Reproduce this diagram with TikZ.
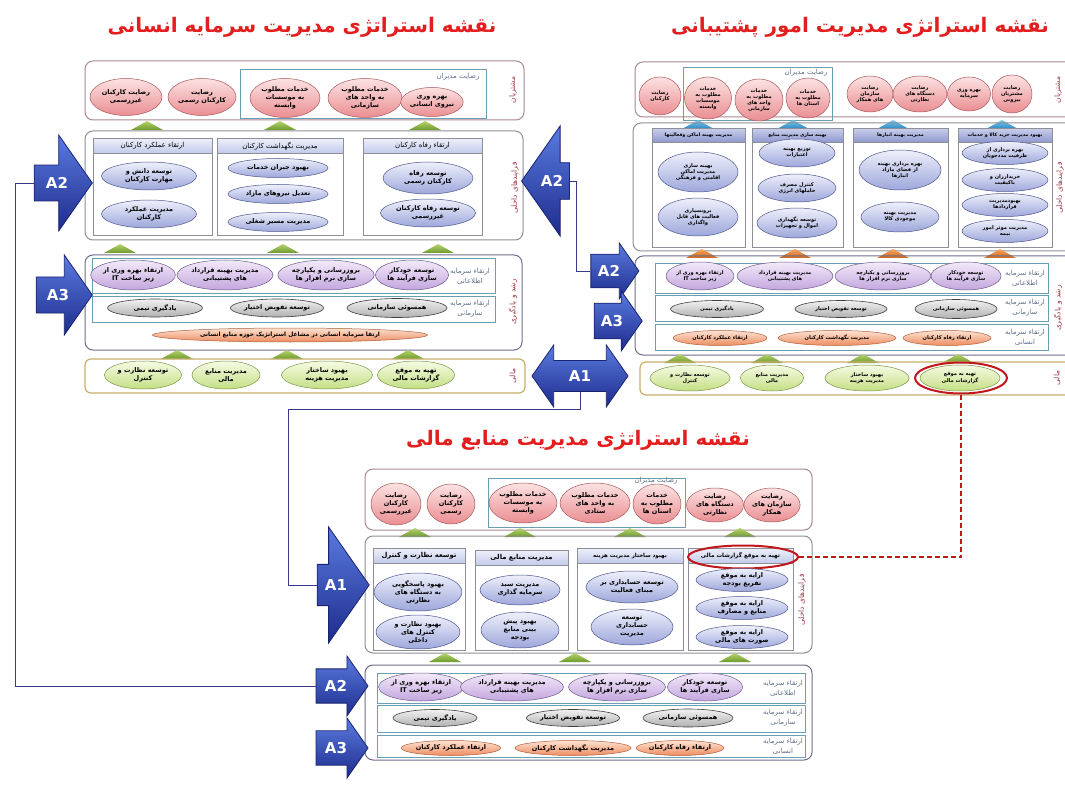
\documentclass[tikz,border=0pt]{standalone}
\usepackage{fontspec}
\setmainfont{DejaVu Sans}
\newfontfamily\fa[Script=Arabic]{DejaVu Sans}
\usetikzlibrary{shapes.geometric,shapes.arrows}
\TeXXeTstate=1
\newcommand\FA[1]{\beginR#1\endR}
\definecolor{pinkT}{HTML}{FCE2E2}\definecolor{pinkB}{HTML}{EA8E92}\definecolor{pinkD}{HTML}{A8585C}
\definecolor{bluT}{HTML}{EEF0FB}\definecolor{bluB}{HTML}{9DA7DB}\definecolor{bluD}{HTML}{50568E}
\definecolor{purT}{HTML}{F3EAF9}\definecolor{purB}{HTML}{C3A6DE}\definecolor{purD}{HTML}{6E5A8C}
\definecolor{gryT}{HTML}{F2F2F2}\definecolor{gryB}{HTML}{B0B0B0}\definecolor{gryD}{HTML}{3F3F3F}
\definecolor{orT}{HTML}{FDE3D2}\definecolor{orB}{HTML}{EE8C60}\definecolor{orD}{HTML}{B0603F}
\definecolor{grnT}{HTML}{F6FBE4}\definecolor{grnB}{HTML}{C3DF84}\definecolor{grnD}{HTML}{7D9545}
\definecolor{frameC}{HTML}{8E8E96}\definecolor{custF}{HTML}{A88A90}\definecolor{learnF}{HTML}{6E6E8A}
\definecolor{finF}{HTML}{C9AF6C}\definecolor{tealR}{HTML}{6B9DB3}
\definecolor{hdrT}{HTML}{EDF0FA}\definecolor{hdrB}{HTML}{C3CAEB}
\definecolor{hdrDT}{HTML}{C9CFEC}\definecolor{hdrDB}{HTML}{8E98CF}
\definecolor{labT}{HTML}{5F6F8A}\definecolor{sideC}{HTML}{A23A4C}\definecolor{titleC}{HTML}{E41E1E}
\definecolor{arrT}{HTML}{5A7BE0}\definecolor{arrB}{HTML}{1D2C8C}\definecolor{arrD}{HTML}{1A2470}
\definecolor{connC}{HTML}{3A3A8C}\definecolor{hiRed}{HTML}{C0161C}
\definecolor{triGT}{HTML}{B5D46A}\definecolor{triGB}{HTML}{6E9A2E}
\definecolor{triBT}{HTML}{7CC6EC}\definecolor{triBB}{HTML}{2A86C0}
\definecolor{triOT}{HTML}{F5A560}\definecolor{triOB}{HTML}{D0661C}
\tikzset{
 base/.style={font=\fa\fontsize{7}{8.3}\selectfont, align=center, inner sep=0pt, text=black},
 ell/.style={base, ellipse, font=\fa\bfseries\fontsize{6.5}{8}\selectfont},
 sm/.style={font=\fa\bfseries\fontsize{5.1}{6.2}\selectfont},
 elp/.style={ell, draw=pinkD, top color=pinkT, bottom color=pinkB, line width=0.5pt},
 elb/.style={ell, draw=bluD, top color=bluT, bottom color=bluB, line width=0.5pt},
 elu/.style={ell, draw=purD, top color=purT, bottom color=purB, line width=0.5pt},
 elg/.style={ell, draw=gryD, top color=gryT, bottom color=gryB, line width=0.6pt},
 elo/.style={ell, draw=orD, top color=orT, bottom color=orB, line width=0.5pt},
 eln/.style={ell, draw=grnD, top color=grnT, bottom color=grnB, line width=0.5pt},
 frm/.style={rounded corners=8pt, line width=1pt},
 col/.style={draw=frameC, fill=white, line width=0.7pt},
 row/.style={draw=tealR, line width=0.9pt},
 hdr/.style={base, draw=frameC, top color=hdrT, bottom color=hdrB, line width=0.5pt, minimum height=15pt, anchor=north},
 hdrd/.style={base, draw=frameC, top color=hdrDT, bottom color=hdrDB, line width=0.5pt, minimum height=14pt, anchor=north, font=\fa\bfseries\fontsize{4.7}{5}\selectfont},
 lab/.style={base, text=labT},
 side/.style={base, text=sideC, rotate=90, font=\fa\fontsize{7.5}{8}\selectfont},
 ttl/.style={font=\fa\bfseries\fontsize{20}{20}\selectfont, text=titleC},
 barrow/.style={single arrow, draw=arrD, line width=0.8pt, top color=arrT, bottom color=arrB, text=white, font=\bfseries\fontsize{15}{15}\selectfont, inner xsep=2pt, inner ysep=12pt, single arrow tip angle=110},
 conn/.style={draw=connC, line width=0.9pt},
 hi/.style={ellipse, draw=hiRed, line width=2pt, inner sep=0pt},
 hilink/.style={draw=hiRed, line width=1.3pt, dash pattern=on 5pt off 3pt},
 trig/.style={top color=triGT, bottom color=triGB},
 trib/.style={top color=triBT, bottom color=triBB},
 trio/.style={top color=triOT, bottom color=triOB},
}
\newcommand\hillmark[3]{\path[#3] (#1-16,#2) -- (#1,#2-9) -- (#1+16,#2) -- cycle;}
\begin{document}
\begin{tikzpicture}[x=1pt,y=-1pt]
\useasboundingbox (0,0) rectangle (1065,794);
\fill[white] (0,0) rectangle (1065,794);
% ================= titles
\node[ttl] (t1) at (302,27) {\FA{نقشه استراتژی مدیریت سرمایه انسانی}};
\node[ttl] (t2) at (860,27) {\FA{نقشه استراتژی مدیریت امور پشتیبانی}};
\node[ttl] (t3) at (578,440) {\FA{نقشه استراتژی مدیریت منابع مالی}};
% ================= LEFT PANEL (HR)
\draw[frm, draw=custF] (85,61) rectangle (524,120);
\draw[row] (240,69) rectangle (486,118);
\node[lab] (lmgr) at (458,77) {\FA{رضایت مدیران}};
\node[side] (ls1) at (513,90) {\FA{مشتریان}};
\node[elp, minimum width=72, minimum height=37] (lc1) at (126,97) {\FA{رضایت کارکنان}\\\FA{غیررسمی}};
\node[elp, minimum width=68, minimum height=37] (lc2) at (202,97) {\FA{رضایت}\\\FA{کارکنان رسمی}};
\node[elp, minimum width=70, minimum height=39] (lc3) at (285,98) {\FA{خدمات مطلوب}\\\FA{به موسسات}\\\FA{وابسته}};
\node[elp, minimum width=74, minimum height=39] (lc4) at (365,98) {\FA{خدمات مطلوب}\\\FA{به واحد های}\\\FA{سازمانی}};
\node[elp, minimum width=59, minimum height=29] (lc5) at (432,102) {\FA{بهره وری}\\\FA{نیروی انسانی}};
\hillmark{147}{130}{trig}\hillmark{280}{130}{trig}\hillmark{425}{130}{trig}
\draw[frm, draw=frameC] (85,131) rectangle (523,240);
\draw[col] (93,138) rectangle (212,235);
\draw[col] (217,138) rectangle (343,235);
\draw[col] (363,138) rectangle (482,235);
\node[hdr, minimum width=119] (lh1) at (152.5,138) {\FA{ارتقاء عملکرد کارکنان}};
\node[hdr, minimum width=126] (lh2) at (280,138) {\FA{مدیریت نگهداشت کارکنان}};
\node[hdr, minimum width=119] (lh3) at (422.5,138) {\FA{ارتقاء رفاه کارکنان}};
\node[elb, minimum width=95, minimum height=28] (li1) at (149,176) {\FA{توسعه دانش و}\\\FA{مهارت کارکنان}};
\node[elb, minimum width=95, minimum height=28] (li2) at (149,214) {\FA{مدیریت عملکرد}\\\FA{کارکنان}};
\node[elb, minimum width=100, minimum height=19] (li3) at (278,168) {\FA{بهبود جبران خدمات}};
\node[elb, minimum width=100, minimum height=19] (li4) at (278,194) {\FA{تعدیل نیروهای مازاد}};
\node[elb, minimum width=100, minimum height=19] (li5) at (278,222) {\FA{مدیریت مسیر شغلی}};
\node[elb, minimum width=90, minimum height=32] (li6) at (428,178) {\FA{توسعه رفاه}\\\FA{کارکنان رسمی}};
\node[elb, minimum width=95, minimum height=28] (li7) at (428,213) {\FA{توسعه رفاه کارکنان}\\\FA{غیررسمی}};
\node[side] (ls2) at (515,188) {\FA{فرایندهای داخلی}};
\hillmark{120}{253}{trig}\hillmark{283}{253}{trig}\hillmark{438}{253}{trig}
\draw[frm, draw=learnF] (85,255) rectangle (522,350);
\draw[row] (92,258) rectangle (495,293);
\draw[row] (92,296) rectangle (495,322);
\node[lab] (ll1) at (470,276) {\FA{ارتقاء سرمایه}\\[2pt]\FA{اطلاعاتی}};
\node[lab] (ll2) at (470,309) {\FA{ارتقاء سرمایه}\\[2pt]\FA{سازمانی}};
\node[elu, minimum width=75, minimum height=30] (lg1) at (133,275) {\FA{ارتقاء بهره وری از}\\\FA{زیر ساخت IT}};
\node[elu, minimum width=96, minimum height=30] (lg2) at (225,275) {\FA{مدیریت بهینه قرارداد}\\\FA{های پشتیبانی}};
\node[elu, minimum width=95, minimum height=30] (lg3) at (326,275) {\FA{بروزرسانی و یکپارچه}\\\FA{سازی نرم افزار ها}};
\node[elu, minimum width=73, minimum height=30] (lg4) at (412,275) {\FA{توسعه خودکار}\\\FA{سازی فرآیند ها}};
\node[elg, minimum width=95, minimum height=18] (lg5) at (155,308) {\FA{یادگیری تیمی}};
\node[elg, minimum width=92, minimum height=18] (lg6) at (277,308) {\FA{توسعه تفویض اختیار}};
\node[elg, minimum width=100, minimum height=19] (lg7) at (397,308) {\FA{همسوئی سازمانی}};
\node[elo, minimum width=275, minimum height=14, font=\fa\bfseries\fontsize{5.9}{7}\selectfont] (lg8) at (290,335) {\FA{ارتقا سرمایه انسانی در مشاغل استراتژیک حوزه منابع انسانی}};
\node[side] (ls3) at (513,302) {\FA{رشد و یادگیری}};
\hillmark{177}{359}{trig}\hillmark{287}{359}{trig}\hillmark{408}{359}{trig}
\draw[frm, rounded corners=6pt, draw=finF, line width=1.2pt] (85,359) rectangle (525,393);
\node[eln, minimum width=77, minimum height=28] (lf1) at (143,375) {\FA{توسعه نظارت و}\\\FA{کنترل}};
\node[eln, minimum width=68, minimum height=28] (lf2) at (226,375) {\FA{مدیریت منابع}\\\FA{مالی}};
\node[eln, minimum width=91, minimum height=28] (lf3) at (327,375) {\FA{بهبود ساختار}\\\FA{مدیریت هزینه}};
\node[eln, minimum width=77, minimum height=28] (lf4) at (416,375) {\FA{تهیه به موقع}\\\FA{گزارشات مالی}};
\node[side] (ls4) at (513,376) {\FA{مالی}};
% ================= RIGHT PANEL (support)
\draw[frm, draw=custF] (635,62) rectangle (1075,117);
\draw[row] (683,67) rectangle (832,120);
\node[lab] (rmgr) at (806,73) {\FA{رضایت مدیران}};
\node[side] (rs1) at (1058,90) {\FA{مشتریان}};
\node[elp, sm, minimum width=42, minimum height=38] (rc1) at (660,96) {\FA{رضایت}\\\FA{کارکنان}};
\node[elp, sm, minimum width=47, minimum height=42] (rc2) at (708,98) {\FA{خدمات}\\\FA{مطلوب به}\\\FA{موسسات}\\\FA{وابسته}};
\node[elp, sm, minimum width=48, minimum height=42] (rc3) at (759,100) {\FA{خدمات}\\\FA{مطلوب به}\\\FA{واحد های}\\\FA{سازمانی}};
\node[elp, sm, minimum width=44, minimum height=40] (rc4) at (808,98) {\FA{خدمات}\\\FA{مطلوب به}\\\FA{استان ها}};
\node[elp, sm, minimum width=46, minimum height=36] (rc5) at (870,94) {\FA{رضایت}\\\FA{سازمان}\\\FA{های همکار}};
\node[elp, sm, minimum width=54, minimum height=36] (rc6) at (920,94) {\FA{رضایت}\\\FA{دستگاه های}\\\FA{نظارتی}};
\node[elp, sm, minimum width=43, minimum height=34] (rc7) at (969,94) {\FA{بهره وری}\\\FA{سرمایه}};
\node[elp, sm, minimum width=40, minimum height=38] (rc8) at (1012,94) {\FA{رضایت}\\\FA{مشتریان}\\\FA{بیرونی}};
\hillmark{698}{129}{trib}\hillmark{793}{129}{trib}\hillmark{893}{129}{trib}\hillmark{1002}{129}{trib}
\draw[frm, draw=frameC] (633,123) rectangle (1075,251);
\draw[col] (652,128) rectangle (745,247);
\draw[col] (752,128) rectangle (843,247);
\draw[col] (853,128) rectangle (948,247);
\draw[col] (958,128) rectangle (1052,247);
\node[hdrd, minimum width=93] (rh1) at (698.5,128) {\FA{مدیریت بهینه اماکن وفعالیتها}};
\node[hdrd, minimum width=91] (rh2) at (797.5,128) {\FA{بهینه سازی مدیریت منابع}};
\node[hdrd, minimum width=95] (rh3) at (900.5,128) {\FA{مدیریت بهینه انبارها}};
\node[hdrd, minimum width=94] (rh4) at (1005,128) {\FA{بهبود مدیریت خرید کالا و خدمات}};
\node[elb, sm, minimum width=80, minimum height=40] (ri1) at (698,172) {\FA{بهینه سازی}\\\FA{مدیریت اماکن}\\\FA{اقامتی و فرهنگی}};
\node[elb, sm, minimum width=80, minimum height=38] (ri2) at (698,217) {\FA{برونسپاری}\\\FA{فعالیت های قابل}\\\FA{واگذاری}};
\node[elb, sm, minimum width=76, minimum height=28] (ri3) at (797,153) {\FA{توزیع بهینه}\\\FA{اعتبارات}};
\node[elb, sm, minimum width=78, minimum height=28] (ri4) at (797,188) {\FA{کنترل مصرف}\\\FA{حاملهای انرژی}};
\node[elb, sm, minimum width=80, minimum height=30] (ri5) at (797,223) {\FA{توسعه نگهداری}\\\FA{اموال و تجهیزات}};
\node[elb, sm, minimum width=82, minimum height=40] (ri6) at (900,170) {\FA{بهره برداری بهینه}\\\FA{از فضای مازاد}\\\FA{انبارها}};
\node[elb, sm, minimum width=78, minimum height=30] (ri7) at (900,217) {\FA{مدیریت بهینه}\\\FA{موجودی کالا}};
\node[elb, sm, minimum width=86, minimum height=23] (ri8) at (1005,153) {\FA{بهره برداری از}\\\FA{ظرفیت مددجویان}};
\node[elb, sm, minimum width=86, minimum height=23] (ri9) at (1005,180) {\FA{خریدارزان و}\\\FA{باکیفیت}};
\node[elb, sm, minimum width=86, minimum height=23] (ri10) at (1005,205) {\FA{بهبودمدیریت}\\\FA{قراردادها}};
\node[elb, sm, minimum width=86, minimum height=23] (ri11) at (1005,231) {\FA{مدیریت موثر امور}\\\FA{بیمه}};
\node[side] (rs2) at (1060,188) {\FA{فرایندهای داخلی}};
\hillmark{702}{258}{trio}\hillmark{795}{258}{trio}\hillmark{893}{258}{trio}\hillmark{1000}{258}{trio}
\draw[frm, draw=learnF] (635,256) rectangle (1075,355);
\draw[row] (655,263) rectangle (1048,293);
\draw[row] (655,295) rectangle (1048,321);
\draw[row] (655,324) rectangle (1048,350);
\node[lab] (rl1) at (1025,278) {\FA{ارتقاء سرمایه}\\[2pt]\FA{اطلاعاتی}};
\node[lab] (rl2) at (1025,308) {\FA{ارتقاء سرمایه}\\[2pt]\FA{سازمانی}};
\node[lab] (rl3) at (1025,337) {\FA{ارتقاء سرمایه}\\[2pt]\FA{انسانی}};
\node[elu, sm, minimum width=68, minimum height=28] (rg1) at (700,276) {\FA{ارتقاء بهره وری از}\\\FA{زیر ساخت IT}};
\node[elu, sm, minimum width=96, minimum height=28] (rg2) at (785,276) {\FA{مدیریت بهینه قرارداد}\\\FA{های پشتیبانی}};
\node[elu, sm, minimum width=96, minimum height=28] (rg3) at (883,276) {\FA{بروزرسانی و یکپارچه}\\\FA{سازی نرم افزار ها}};
\node[elu, sm, minimum width=70, minimum height=28] (rg4) at (966,276) {\FA{توسعه خودکار}\\\FA{سازی فرآیند ها}};
\node[elg, sm, minimum width=93, minimum height=17] (rg5) at (717,309) {\FA{یادگیری تیمی}};
\node[elg, sm, minimum width=92, minimum height=17] (rg6) at (841,309) {\FA{توسعه تفویض اختیار}};
\node[elg, sm, minimum width=82, minimum height=19] (rg7) at (956,309) {\FA{همسوئی سازمانی}};
\node[elo, sm, minimum width=94, minimum height=15] (rg8) at (720,338) {\FA{ارتقاء عملکرد کارکنان}};
\node[elo, sm, minimum width=118, minimum height=15] (rg9) at (837,338) {\FA{مدیریت نگهداشت کارکنان}};
\node[elo, sm, minimum width=88, minimum height=15] (rg10) at (947,338) {\FA{ارتقاء رفاه کارکنان}};
\node[side] (rs3) at (1058,308) {\FA{رشد و یادگیری}};
\hillmark{680}{363}{trig}\hillmark{767}{363}{trig}\hillmark{863}{363}{trig}\hillmark{958}{363}{trig}
\draw[frm, rounded corners=6pt, draw=finF, line width=1.2pt] (640,362) rectangle (1075,395);
\node[eln, sm, minimum width=80, minimum height=26] (rf1) at (690,378) {\FA{توسعه نظارت و}\\\FA{کنترل}};
\node[eln, sm, minimum width=63, minimum height=26] (rf2) at (772,378) {\FA{مدیریت منابع}\\\FA{مالی}};
\node[eln, sm, minimum width=84, minimum height=26] (rf3) at (867,378) {\FA{بهبود ساختار}\\\FA{مدیریت هزینه}};
\node[eln, sm, minimum width=80, minimum height=26] (rf4) at (960,378) {\FA{تهیه به موقع}\\\FA{گزارشات مالی}};
\node[hi, minimum width=92, minimum height=31] (hiR) at (961,378) {};
\node[side] (rs4) at (1057,378) {\FA{مالی}};
% ================= BOTTOM PANEL (finance)
\draw[frm, draw=custF] (365,469) rectangle (812,530);
\draw[row] (488,478) rectangle (685,527);
\node[lab] (bmgr) at (656,481) {\FA{رضایت مدیران}};
\node[elp, minimum width=50, minimum height=42] (bc1) at (396,504) {\FA{رضایت}\\\FA{کارکنان}\\\FA{غیررسمی}};
\node[elp, minimum width=48, minimum height=40] (bc2) at (451,504) {\FA{رضایت}\\\FA{کارکنان}\\\FA{رسمی}};
\node[elp, minimum width=68, minimum height=40] (bc3) at (523,503) {\FA{خدمات مطلوب}\\\FA{به موسسات}\\\FA{وابسته}};
\node[elp, minimum width=70, minimum height=40] (bc4) at (595,503) {\FA{خدمات مطلوب}\\\FA{به واحد های}\\\FA{ستادی}};
\node[elp, minimum width=48, minimum height=40] (bc5) at (657,504) {\FA{خدمات}\\\FA{مطلوب به}\\\FA{استان ها}};
\node[elp, minimum width=57, minimum height=34] (bc6) at (715,505) {\FA{رضایت}\\\FA{دستگاه های}\\\FA{نظارتی}};
\node[elp, minimum width=52, minimum height=34] (bc7) at (772,505) {\FA{رضایت}\\\FA{سازمان های}\\\FA{همکار}};
\hillmark{415}{537}{trig}\hillmark{520}{537}{trig}\hillmark{630}{537}{trig}\hillmark{740}{537}{trig}
\draw[frm, draw=frameC] (365,536) rectangle (812,653);
\draw[col] (373,548) rectangle (465,650);
\draw[col] (475,550) rectangle (568,650);
\draw[col] (577,548) rectangle (683,650);
\draw[col] (688,548) rectangle (793,650);
\node[hdr, minimum width=92, font=\fa\bfseries\fontsize{6.8}{7}\selectfont] (bh1) at (419,548) {\FA{توسعه نظارت و کنترل}};
\node[hdr, minimum width=93, font=\fa\bfseries\fontsize{6.8}{7}\selectfont] (bh2) at (521.5,550) {\FA{مدیریت منابع مالی}};
\node[hdr, minimum width=106, font=\fa\bfseries\fontsize{5.5}{6}\selectfont] (bh3) at (630,548) {\FA{بهبود ساختار مدیریت هزینه}};
\node[hdr, minimum width=105, font=\fa\bfseries\fontsize{5.7}{6}\selectfont] (bh4) at (740.5,548) {\FA{تهیه به موقع گزارشات مالی}};
\node[hi, minimum width=110, minimum height=23] (hiB) at (743,557) {};
\node[elb, minimum width=88, minimum height=38] (bi1) at (418,592) {\FA{بهبود پاسخگویی}\\\FA{به دستگاه های}\\\FA{نظارتی}};
\node[elb, minimum width=84, minimum height=34] (bi2) at (418,632) {\FA{بهبود نظارت و}\\\FA{کنترل های}\\\FA{داخلی}};
\node[elb, minimum width=80, minimum height=30] (bi3) at (520,590) {\FA{مدیریت سبد}\\\FA{سرمایه گذاری}};
\node[elb, minimum width=78, minimum height=36] (bi4) at (520,630) {\FA{بهبود پیش}\\\FA{بینی منابع}\\\FA{بودجه}};
\node[elb, minimum width=92, minimum height=32] (bi5) at (632,587) {\FA{توسعه حسابداری بر}\\\FA{مبنای فعالیت}};
\node[elb, minimum width=82, minimum height=36] (bi6) at (632,627) {\FA{توسعه}\\\FA{حسابداری}\\\FA{مدیریت}};
\node[elb, minimum width=92, minimum height=23] (bi7) at (742,580) {\FA{ارایه به موقع}\\\FA{تفریغ بودجه}};
\node[elb, minimum width=92, minimum height=23] (bi8) at (742,608) {\FA{ارایه به موقع}\\\FA{منابع و مصارف}};
\node[elb, minimum width=92, minimum height=23] (bi9) at (742,637) {\FA{ارایه به موقع}\\\FA{صورت های مالی}};
\node[side] (bs2) at (802,600) {\FA{فرایندهای داخلی}};
\hillmark{445}{662}{trig}\hillmark{575}{662}{trig}\hillmark{735}{662}{trig}
\draw[frm, draw=learnF] (365,665) rectangle (812,760);
\draw[row] (377,673) rectangle (805,703);
\draw[row] (377,705) rectangle (805,732);
\draw[row] (377,735) rectangle (805,757);
\node[lab] (bl1) at (783,688) {\FA{ارتقاء سرمایه}\\[2pt]\FA{اطلاعاتی}};
\node[lab] (bl2) at (783,718) {\FA{ارتقاء سرمایه}\\[2pt]\FA{سازمانی}};
\node[lab] (bl3) at (783,746) {\FA{ارتقاء سرمایه}\\[2pt]\FA{انسانی}};
\node[elu, minimum width=75, minimum height=28] (bg1) at (421,687) {\FA{ارتقاء بهره وری از}\\\FA{زیر ساخت IT}};
\node[elu, minimum width=103, minimum height=28] (bg2) at (512,687) {\FA{مدیریت بهینه قرارداد}\\\FA{های پشتیبانی}};
\node[elu, minimum width=97, minimum height=28] (bg3) at (617,687) {\FA{بروزرسانی و یکپارچه}\\\FA{سازی نرم افزار ها}};
\node[elu, minimum width=75, minimum height=28] (bg4) at (705,687) {\FA{توسعه خودکار}\\\FA{سازی فرآیند ها}};
\node[elg, minimum width=84, minimum height=17] (bg5) at (435,718) {\FA{یادگیری تیمی}};
\node[elg, minimum width=93, minimum height=17] (bg6) at (573,718) {\FA{توسعه تفویض اختیار}};
\node[elg, minimum width=90, minimum height=18] (bg7) at (688,718) {\FA{همسوئی سازمانی}};
\node[elo, minimum width=98, minimum height=15] (bg8) at (451,748) {\FA{ارتقاء عملکرد کارکنان}};
\node[elo, minimum width=113, minimum height=15] (bg9) at (573,748) {\FA{مدیریت نگهداشت کارکنان}};
\node[elo, minimum width=86, minimum height=15] (bg10) at (680,748) {\FA{ارتقاء رفاه کارکنان}};
% ================= block arrows
\node[barrow, minimum height=58, minimum width=96, single arrow head extend=30] (a2L) at (57,183) {A2};
\node[barrow, minimum height=56, minimum width=80, single arrow head extend=22] (a3L) at (58,295) {A3};
\node[barrow, minimum height=48, minimum width=110, single arrow head extend=36, shape border rotate=180] (a2M) at (552,181) {A2};
\node[barrow, minimum height=48, minimum width=56, single arrow head extend=10, inner ysep=9pt] (a2R) at (609,271) {A2};
\node[barrow, minimum height=48, minimum width=60, single arrow head extend=11, inner ysep=10pt] (a3R) at (612,321) {A3};
\node[barrow, double arrow, double arrow tip angle=110, minimum height=96, minimum width=62, double arrow head extend=15, inner ysep=9pt] (a1D) at (580,376) {A1};
\node[barrow, minimum height=52, minimum width=116, single arrow head extend=36, inner ysep=14pt] (a1B) at (336,585) {A1};
\node[barrow, minimum height=52, minimum width=60, single arrow head extend=12, inner ysep=10pt] (a2B) at (336,686) {A2};
\node[barrow, minimum height=52, minimum width=60, single arrow head extend=12, inner ysep=10pt] (a3B) at (336,748) {A3};
% ================= connectors
\draw[conn] (a2L.tail) -- ++(-18,0) |- (a2B.tail);
\draw[conn] (a1D.south) -- ++(0,18) -| ++(-292,0) |- (a1B.tail);
\draw[conn] (a2M.tail) -- ++(6,0) |- (a2R.tail);
\draw[hilink] (hiR.south) |- (hiB.east);
\end{tikzpicture}
\end{document}
